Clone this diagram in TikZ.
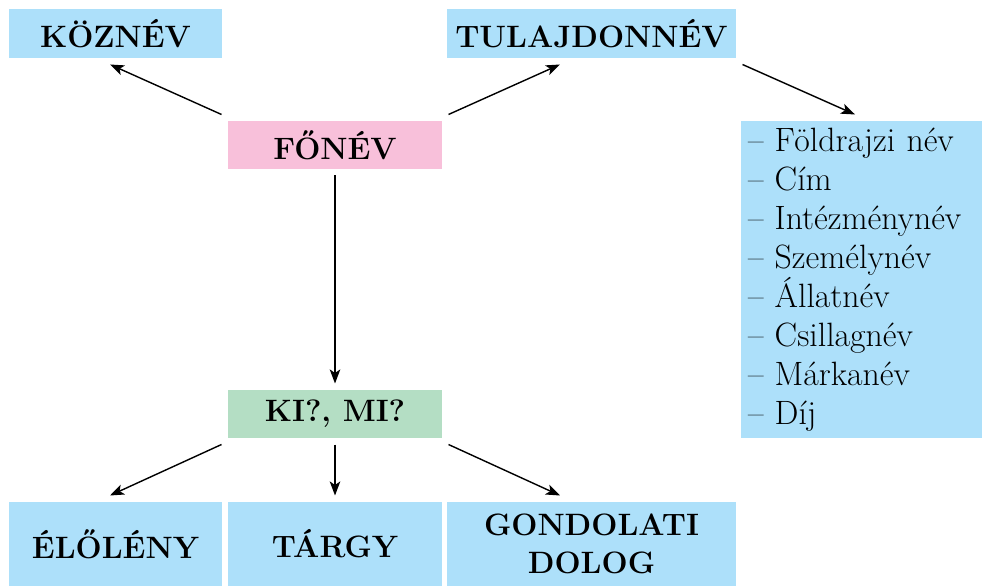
\documentclass[tikz,border=0pt]{standalone}
\usepackage{fontspec}
\usepackage{tikz}
\usetikzlibrary{arrows.meta,positioning}

\definecolor{kek}{RGB}{173,224,250}
\definecolor{rozsa}{RGB}{248,192,218}
\definecolor{zold}{RGB}{180,222,196}

\begin{document}
\begin{tikzpicture}[thick,
   cimke/.style={rectangle,inner sep=0pt,outer sep=0.13cm,align=center,font=\bfseries\fontsize{17.6}{21.5}\selectfont},
   lista/.style={rectangle,inner xsep=0.14cm,inner ysep=0pt,outer sep=0.13cm,align=left,font=\fontsize{19.2}{22.2}\selectfont},
   nyil/.style={-{Stealth[length=8pt,width=6pt,inset=2pt]}}]
   \useasboundingbox (0,0) rectangle (19.64,11.72);
   \foreach \pos/\name/\disp/\col/\szel/\mag in {{(2.31,11.05)/koznev/KÖZNÉV/kek/4.26/0.98}, {(11.83,11.05)/tulaj/TULAJDONNÉV/kek/5.78/0.98}, {(6.70,8.82)/fonev/FŐNÉV/rozsa/4.28/0.96}, {(6.70,3.44)/kimi/{KI?, MI?}/zold/4.28/0.96}, {(2.31,0.84)/eloleny/ÉLŐLÉNY/kek/4.26/1.68}, {(6.70,0.84)/targy/TÁRGY/kek/4.28/1.68}, {(11.83,0.84)/gondolat/GONDOLATI\\DOLOG/kek/5.78/1.68}}
   \node[cimke,fill=\col,minimum width=\szel cm,minimum height=\mag cm] (\name) at \pos {\disp};
   \node[lista,fill=kek,text width=4.54cm,minimum height=6.34cm] (nevek) at (17.23,6.13) {-- Földrajzi név\\ -- Cím\\ -- Intézménynév\\ -- Személynév\\ -- Állatnév\\ -- Csillagnév\\ -- Márkanév\\ -- Díj};
   \foreach \source/\dest/\sh in {fonev.north west/koznev.south/-0.11, fonev.north east/tulaj.south/-0.63, tulaj.south east/nevek.north/-0.13, fonev.south/kimi.north/0, kimi.south west/eloleny.north/-0.11, kimi.south/targy.north/0, kimi.south east/gondolat.north/-0.63} % arrows between the boxes
   \draw[nyil] (\source) -- ([xshift=\sh cm]\dest);
\end{tikzpicture}
\end{document}
